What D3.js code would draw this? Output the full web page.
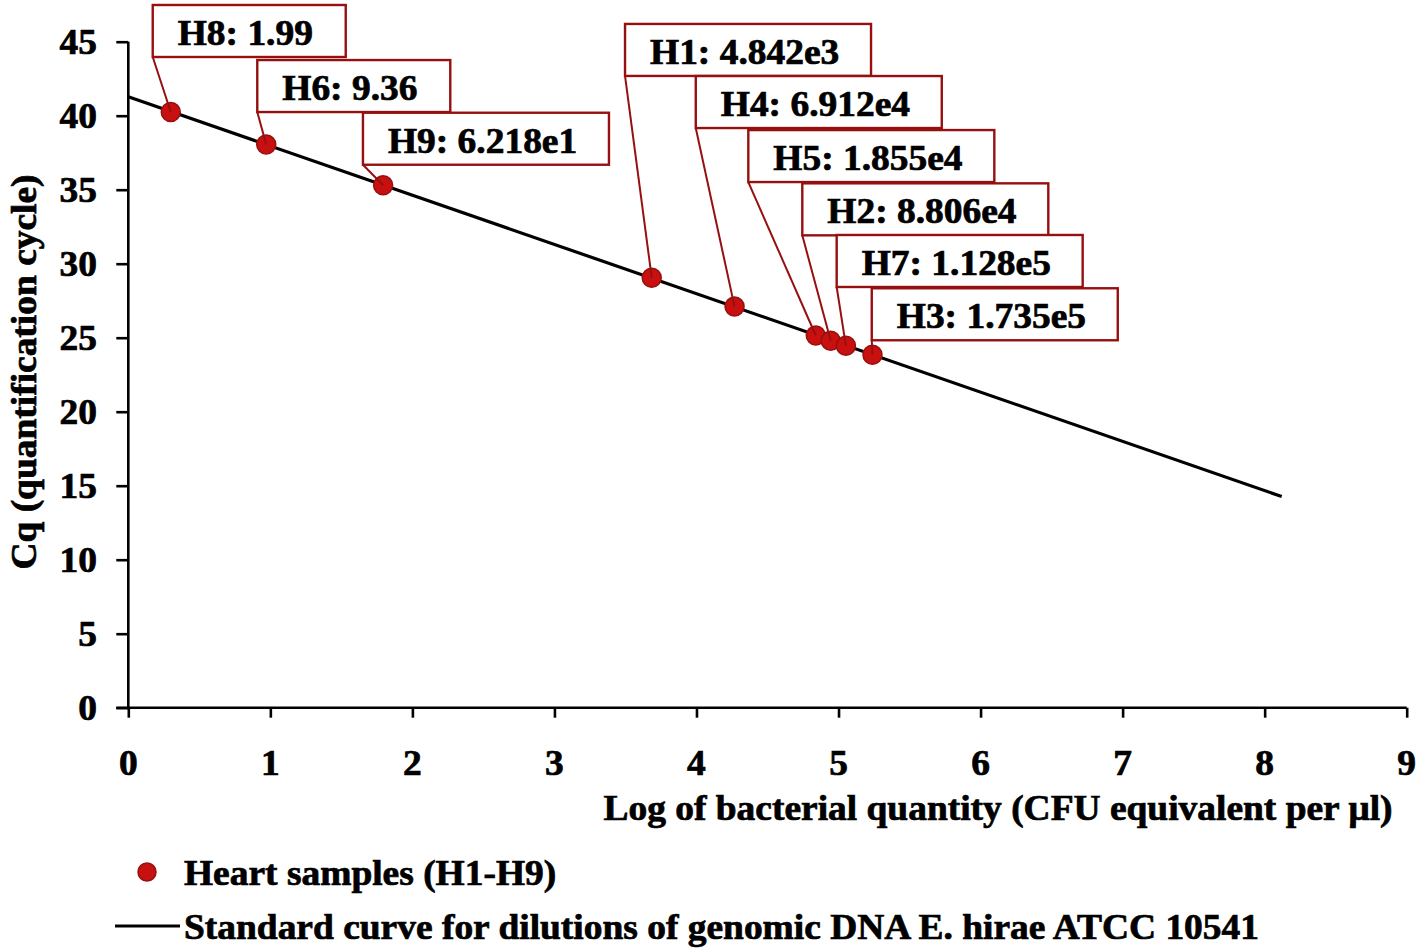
<!DOCTYPE html>
<html>
<head>
<meta charset="utf-8">
<script src="https://cdn.jsdelivr.net/npm/d3@7"></script>
<style>
  html, body { margin: 0; padding: 0; background: #fff; }
  svg { display: block; }
  text { font-family: "Liberation Serif", "Times New Roman", serif; font-weight: bold; fill: #000;
         stroke: #000; stroke-width: 0.7px; }
</style>
</head>
<body>
<svg id="chart" width="1418" height="948"></svg>
<script>
// ---------- data ----------
const xTicks = [0, 1, 2, 3, 4, 5, 6, 7, 8, 9];
const yTicks = [0, 5, 10, 15, 20, 25, 30, 35, 40, 45];

// sample points (log quantity, Cq), in order of increasing log quantity
const sampleLog = [0.299, 0.971, 1.794, 3.685, 4.268, 4.840, 4.945, 5.052, 5.239];
const sampleCq  = [40.25, 38.05, 35.30, 29.05, 27.10, 25.15, 24.80, 24.45, 23.85];
const sampleLabels = ["H8: 1.99", "H6: 9.36", "H9: 6.218e1", "H1: 4.842e3", "H4: 6.912e4",
                      "H5: 1.855e4", "H2: 8.806e4", "H7: 1.128e5", "H3: 1.735e5"];

// standard curve end points
const curveLog = [0, 8.12];
const curveCq  = [41.28, 14.27];

const xTitle = "Log of bacterial quantity (CFU equivalent per μl)";
const yTitle = "Cq (quantification cycle)";
const legendSamples = "Heart samples (H1-H9)";
const legendCurve = "Standard curve for dilutions of genomic DNA E. hirae ATCC 10541";

// ---------- layout ----------
const FS = 35;        // font size
const SX = 1.07;      // horizontal glyph stretch of the original
const RED = "#c81010";
const DARKRED = "#961010";

// label box anchors (top-left corner, in data units)
const labelAnchorX = [0.172, 0.908, 1.652, 3.497, 3.995, 4.365, 4.745, 4.987, 5.234];
const labelAnchorY = [47.48, 43.76, 40.20, 46.20, 42.68, 39.03, 35.43, 31.94, 28.34];

const svg = d3.select("#chart");
const x = d3.scaleLinear().domain([0, 9]).range([128.3, 1406.7]);
const y = d3.scaleLinear().domain([0, 45]).range([707.7, 41.7]);

function addText(parent, px, py, str, anchor, rotate) {
  const g = parent.append("g")
    .attr("transform", `translate(${px},${py})` + (rotate ? ` rotate(${rotate})` : "") + ` scale(${SX},1)`);
  const t = g.append("text")
    .attr("text-anchor", anchor || "start")
    .attr("font-size", FS)
    .text(str);
  return t;
}

// ---------- axes ----------
const axes = svg.append("g");
const xAxis = d3.axisBottom(x).tickValues(xTicks).tickSize(10).tickFormat("");
const yAxis = d3.axisLeft(y).tickValues(yTicks).tickSize(12).tickFormat("");
axes.append("g").attr("transform", `translate(0,${y(0)})`).call(xAxis)
  .call(g => g.selectAll("path,line").attr("stroke", "#000").attr("stroke-width", 2.6))
  .call(g => g.select(".domain").attr("d", `M${x(0) - 12},0H${x(9)}`));
axes.append("g").attr("transform", `translate(${x(0)},0)`).call(yAxis)
  .call(g => g.selectAll("path,line").attr("stroke", "#000").attr("stroke-width", 2.6))
  .call(g => g.select(".domain").attr("d", `M0,${y(45)}V${y(0)}`));

xTicks.forEach(v => addText(axes, x(v), 775, String(v), "middle"));
yTicks.forEach(v => addText(axes, 97, y(v) + 12, String(v), "end"));

addText(svg, 998, 820, xTitle, "middle");
addText(svg, 36, 372, yTitle, "middle", -90);

// ---------- standard curve ----------
const curvePts = curveLog.map((v, i) => [x(v), y(curveCq[i])]);
svg.append("path")
  .attr("d", d3.line()(curvePts))
  .attr("fill", "none").attr("stroke", "#000").attr("stroke-width", 3.2);

// ---------- leader lines + label boxes ----------
const boxH = 52;
const labels = svg.append("g");
sampleLabels.forEach((lab, i) => {
  const bx = x(labelAnchorX[i]);
  const by = y(labelAnchorY[i]);
  labels.append("line")
    .attr("x1", bx).attr("y1", by + boxH)
    .attr("x2", x(sampleLog[i])).attr("y2", y(sampleCq[i]))
    .attr("stroke", DARKRED).attr("stroke-width", 2);
});

// points
svg.append("g").selectAll("circle")
  .data(sampleLog)
  .join("circle")
  .attr("cx", d => x(d))
  .attr("cy", (d, i) => y(sampleCq[i]))
  .attr("r", 9.5)
  .attr("fill", RED)
  .attr("stroke", DARKRED)
  .attr("stroke-width", 1.5);

sampleLabels.forEach((lab, i) => {
  const bx = x(labelAnchorX[i]);
  const by = y(labelAnchorY[i]);
  const long = lab.length > 9;
  const bw = long ? 246 : 193;
  labels.append("rect")
    .attr("x", bx).attr("y", by).attr("width", bw).attr("height", boxH)
    .attr("fill", "#fff").attr("stroke", DARKRED).attr("stroke-width", 2.4);
  addText(labels, bx + 25, by + 40, lab, "start");
});
labels.raise();

// ---------- legend ----------
const lg = svg.append("g");
lg.append("circle").attr("cx", 147).attr("cy", 872).attr("r", 9)
  .attr("fill", RED).attr("stroke", DARKRED).attr("stroke-width", 1.5);
addText(lg, 184, 885, legendSamples, "start");
lg.append("line").attr("x1", 115).attr("x2", 180).attr("y1", 926).attr("y2", 926)
  .attr("stroke", "#000").attr("stroke-width", 3);
addText(lg, 184, 939, legendCurve, "start");
</script>
</body>
</html>
